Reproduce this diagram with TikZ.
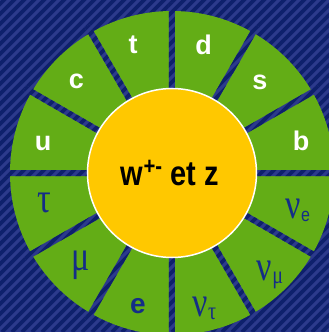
\documentclass[tikz,border=0pt]{standalone}
\usepackage{fontspec}
\setmainfont{Liberation Sans}
\newfontfamily\grk{Liberation Serif}
\usetikzlibrary{calc}
\definecolor{bglight}{RGB}{44,58,140}
\definecolor{bgdark}{RGB}{14,32,108}
\definecolor{ringgreen}{RGB}{99,173,22}
\definecolor{coreyellow}{RGB}{255,200,0}
\definecolor{leptonblue}{RGB}{20,45,135}
\newcommand{\stripefill}{%
  \fill[bglight] (-172,-159) rectangle (157,173);
  \foreach \x in {-520,-510,...,170} \draw[bgdark,line width=3.6pt] (\x,-159) -- ++(350,350);
}
\newcommand{\gsym}[1]{\scalebox{1}[1.25]{\grk\fontsize{34}{34}\selectfont #1}}
\newcommand{\gsub}[1]{\raisebox{-3pt}{\scalebox{1}[1.25]{\grk\fontsize{20}{20}\selectfont #1}}}
\begin{document}
\begin{tikzpicture}[x=1pt,y=1pt,
  quark/.style={text=white,inner sep=0pt,font=\fontsize{27}{27}\selectfont\bfseries},
  lepton/.style={text=leptonblue,inner sep=0pt,font=\fontsize{28}{28}\selectfont\bfseries},
  greek/.style={text=leptonblue,inner sep=0pt}]
\useasboundingbox (-172,-159) rectangle (157,173);
\begin{scope}
  \clip (-172,-159) rectangle (157,173);
  \stripefill
\end{scope}
\fill[ringgreen] (0,0) circle (162);
\begin{scope}
  \clip \foreach \a in {0,30,...,150} {
    ($(\a:170)+(\a+90:3)$) -- ($(\a:170)+(\a-90:3)$) --
    ($(\a+180:170)+(\a-90:3)$) -- ($(\a+180:170)+(\a+90:3)$) -- cycle };
  \stripefill
\end{scope}
\node[circle, draw=white, line width=1.5pt, fill=coreyellow, minimum size=169pt, inner sep=0pt] (core) at (0,0) {};
\node[inner sep=0pt] (title) at (-2,0) {\scalebox{1}[1.2]{\fontsize{29}{29}\selectfont\bfseries w\textsuperscript{+-} et z}};
\node[quark] (t) at (-39,128.5) {t};
\node[quark] (d) at (31.5,128.5) {d};
\node[quark] (c) at (-95.5,92) {c};
\node[quark] (s) at (88,90.5) {s};
\node[quark] (u) at (-129,30) {u};
\node[quark] (b) at (129,32.5) {b};
\node[lepton] (e) at (-34,-133) {e};
\node[greek] (tau) at (-127.5,-30) {\gsym{τ}};
\node[greek] (mu) at (-91,-92.5) {\gsym{μ}};
\node[greek] (nue) at (126,-37.5) {\gsym{ν}\raisebox{-3pt}{\scalebox{1}[1.2]{\fontsize{16}{16}\selectfont e}}};
\node[greek] (numu) at (98,-102) {\gsym{ν}\gsub{μ}};
\node[greek] (nutau) at (32.5,-135.5) {\gsym{ν}\gsub{τ}};
\end{tikzpicture}
\end{document}
